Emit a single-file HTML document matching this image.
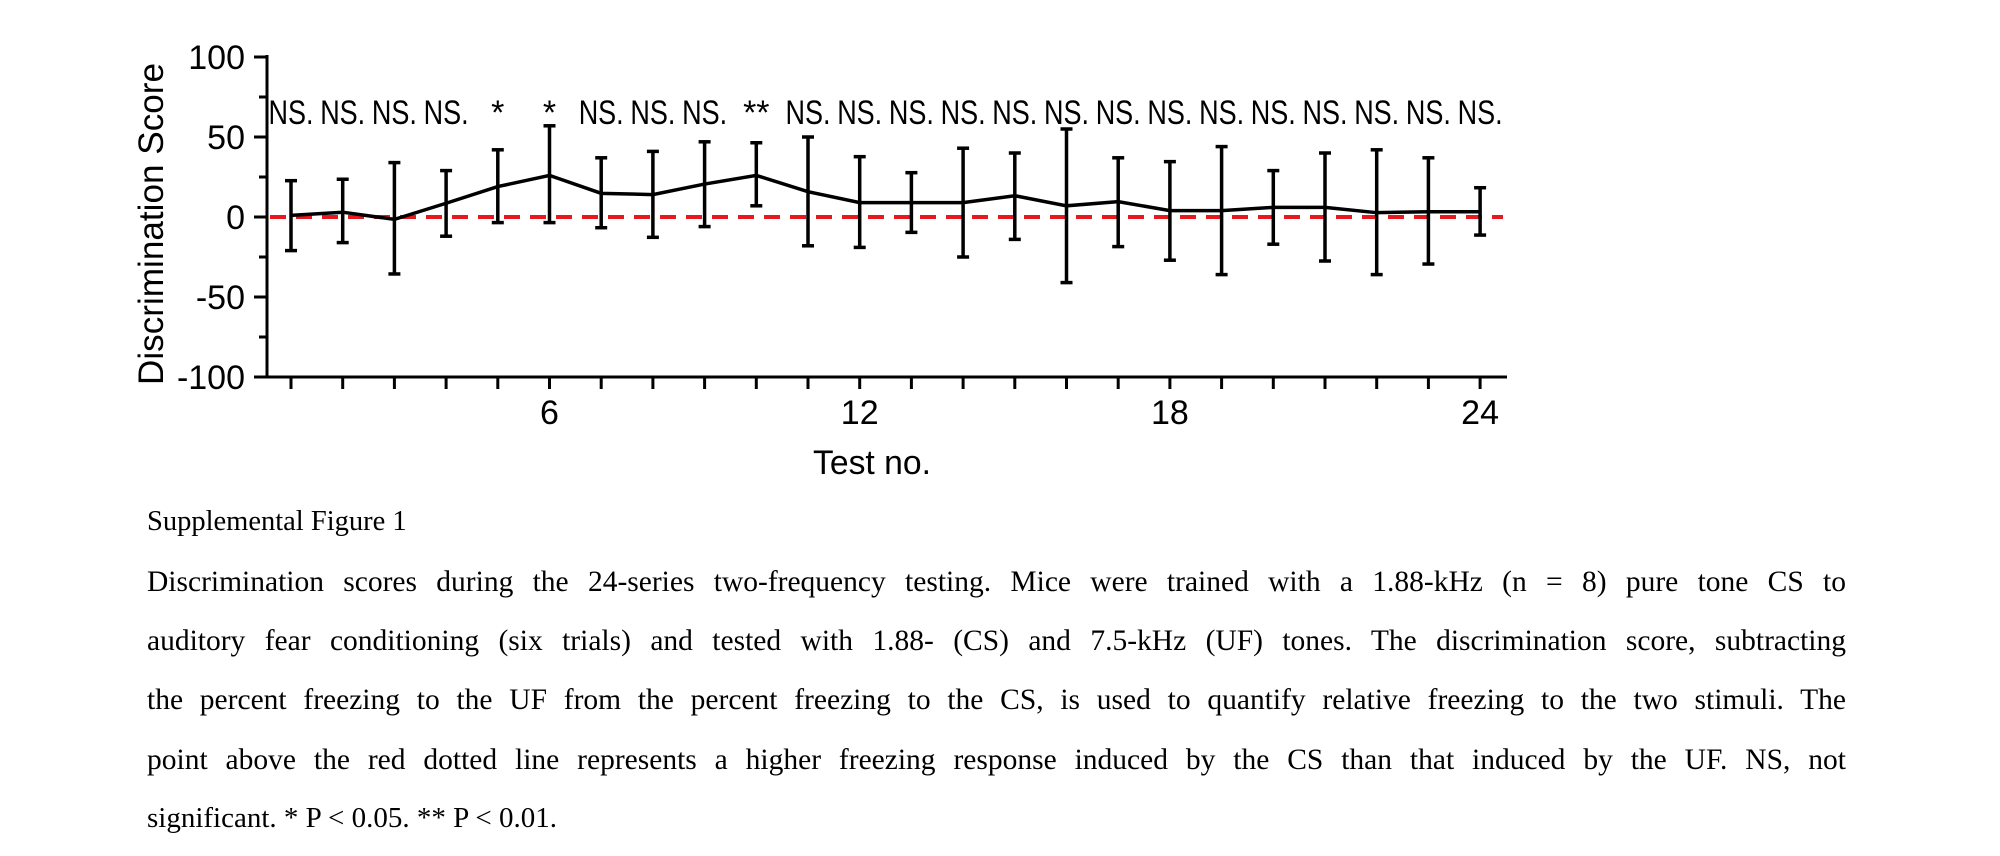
<!DOCTYPE html>
<html><head><meta charset="utf-8"><style>
html,body{margin:0;padding:0;background:#fff;}
body{width:2000px;height:856px;position:relative;overflow:hidden;}
svg{position:absolute;left:0;top:0;}
.cap{position:absolute;left:147px;width:1699px;font-family:"Liberation Serif",serif;font-size:29.5px;color:#000;white-space:nowrap;}
.j{text-align:justify;text-align-last:justify;white-space:normal;}
</style></head><body>
<svg id="chart" width="2000" height="500" viewBox="0 0 2000 500" font-family="Liberation Sans, sans-serif"></svg>
<div class="cap" style="top:506px;font-size:28.5px">Supplemental Figure 1</div>
<div class="cap j" style="top:566px">Discrimination scores during the 24-series two-frequency testing. Mice were trained with a 1.88-kHz (n = 8) pure tone CS to</div>
<div class="cap j" style="top:625px">auditory fear conditioning (six trials) and tested with 1.88- (CS) and 7.5-kHz (UF) tones. The discrimination score, subtracting</div>
<div class="cap j" style="top:684px">the percent freezing to the UF from the percent freezing to the CS, is used to quantify relative freezing to the two stimuli. The</div>
<div class="cap j" style="top:744px">point above the red dotted line represents a higher freezing response induced by the CS than that induced by the UF. NS, not</div>
<div class="cap" style="top:802px;font-size:29px">significant. * P &lt; 0.05. ** P &lt; 0.01.</div>
<script>
const tests = [1,2,3,4,5,6,7,8,9,10,11,12,13,14,15,16,17,18,19,20,21,22,23,24];
const means = [1,3,-1.5,8.6,19,26,14.8,14,20.6,26,15.8,9,9,9,13.3,7,9.6,4,4,6,6,2.7,3.3,3.3];
const upper = [22.7,23.6,34,29,42,57,37,41,47,46.4,50,37.7,27.7,43,40,55,37,34.6,44,29,40,42,37,18.3];
const lower = [-21,-16,-35.6,-12,-3.5,-3.5,-6.7,-12.7,-6,7,-18,-19,-9.6,-25,-14,-41,-18.5,-27,-36,-17,-27.5,-36,-29.4,-11.3];
const sig = ["NS.","NS.","NS.","NS.","*","*","NS.","NS.","NS.","**","NS.","NS.","NS.","NS.","NS.","NS.","NS.","NS.","NS.","NS.","NS.","NS.","NS.","NS."];
const yTicks = [100,50,0,-50,-100];
const yMinor = [75,25,-25,-75];
const xLabels = [6,12,18,24];

const NS='http://www.w3.org/2000/svg';
const svg=document.getElementById('chart');
const X0=267, XEND=1507, Y100=57, YM100=377;
const xs=i=>291+(i-1)*51.7;
const ys=v=>217-v*1.6;
function mk(t,a,p){const e=document.createElementNS(NS,t);for(const k in a)e.setAttribute(k,a[k]);(p||svg).appendChild(e);return e;}

let e=mk('line',{x1:X0,y1:Y100-2,x2:X0,y2:YM100+1.5,stroke:'#000','stroke-width':3});


e=mk('line',{x1:X0-13,y1:YM100,x2:XEND,y2:YM100,stroke:'#000','stroke-width':3});



yTicks.forEach(v=>{
  const t=mk('line',{x1:X0-13,y1:ys(v),x2:X0,y2:ys(v),stroke:'#000','stroke-width':3});
  
  
  const l=mk('text',{x:245,y:ys(v)+12,'text-anchor':'end','font-size':34});
  l.textContent=String(v);
  
  
});
yMinor.forEach(v=>{
  const t=mk('line',{x1:X0-8,y1:ys(v),x2:X0,y2:ys(v),stroke:'#000','stroke-width':3});
  
  
});
tests.forEach(i=>{
  const t=mk('line',{x1:xs(i),y1:YM100,x2:xs(i),y2:YM100+12,stroke:'#000','stroke-width':3});
  
  
});
xLabels.forEach(v=>{
  const l=mk('text',{x:xs(v),y:424,'text-anchor':'middle','font-size':34});
  l.textContent=String(v);
  
  
});
e=mk('text',{x:872,y:474,'text-anchor':'middle','font-size':34,textLength:118,lengthAdjust:'spacingAndGlyphs'});
e.textContent='Test no.';


e=mk('text',{x:0,y:0,'text-anchor':'middle','font-size':35,textLength:322,lengthAdjust:'spacingAndGlyphs',transform:'translate(163,224) rotate(-90)'});
e.textContent='Discrimination Score';



e=mk('line',{x1:270,y1:ys(0),x2:1503,y2:ys(0),stroke:'#e8191e','stroke-width':4,'stroke-dasharray':'16 10'});



tests.forEach((t,k)=>{
  const g=mk('g',{stroke:'#000','stroke-width':3.5});
  
  
  const x=xs(t);
  mk('line',{x1:x,y1:ys(upper[k]),x2:x,y2:ys(lower[k])},g);
  mk('line',{x1:x-6,y1:ys(upper[k]),x2:x+6,y2:ys(upper[k])},g);
  mk('line',{x1:x-6,y1:ys(lower[k]),x2:x+6,y2:ys(lower[k])},g);
});
e=mk('polyline',{points:tests.map((t,k)=>xs(t)+','+ys(means[k])).join(' '),fill:'none',stroke:'#000','stroke-width':3.5,'stroke-linejoin':'miter'});



tests.forEach((t,k)=>{
  const a={x:xs(t),y:124,'text-anchor':'middle','font-size':34};
  if(sig[k]==='NS.'){a.textLength=45;a.lengthAdjust='spacingAndGlyphs';}
  const l=mk('text',a);
  l.textContent=sig[k];
  
  
});
</script>
</body></html>
